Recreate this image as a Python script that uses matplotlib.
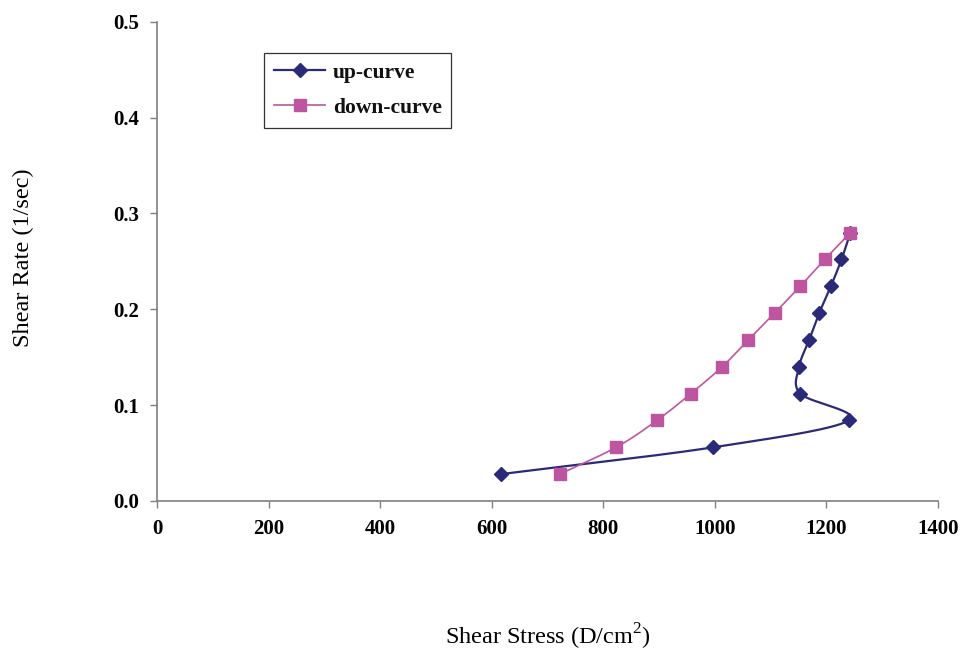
import numpy as np
import matplotlib
matplotlib.use("Agg")
import matplotlib.pyplot as plt
from matplotlib.lines import Line2D

# ---- data ----
up_stress = [616, 997, 1240, 1153, 1151, 1169, 1187, 1208, 1227, 1243]
up_rate = [0.028, 0.056, 0.084, 0.112, 0.140, 0.168, 0.196, 0.224, 0.252, 0.280]
down_stress = [722, 823, 896, 957, 1013, 1060, 1107, 1153, 1197, 1243]
down_rate = [0.028, 0.056, 0.084, 0.112, 0.140, 0.168, 0.196, 0.224, 0.252, 0.280]
x_ticks = [0, 200, 400, 600, 800, 1000, 1200, 1400]
y_ticks = [0.0, 0.1, 0.2, 0.3, 0.4, 0.5]
series_names = ["up-curve", "down-curve"]

NAVY = "#2B2A78"
MAG = "#BE55A0"
SERIF = ["Liberation Serif", "DejaVu Serif"]
plt.rcParams["mathtext.fontset"] = "custom"
plt.rcParams["mathtext.rm"] = "Liberation Serif"


def smooth(xs, ys, ax, n=30):
    """Catmull-Rom smoothing done in display space (like Excel's smoothed line)."""
    pts = ax.transData.transform(np.column_stack([xs, ys]))
    P = np.vstack([pts[0] * 2 - pts[1], pts, pts[-1] * 2 - pts[-2]])
    out = []
    for i in range(1, len(P) - 2):
        p0, p1, p2, p3 = P[i - 1], P[i], P[i + 1], P[i + 2]
        t = np.linspace(0, 1, n, endpoint=(i == len(P) - 3))[:, None]
        seg = 0.5 * ((2 * p1) + (-p0 + p2) * t + (2 * p0 - 5 * p1 + 4 * p2 - p3) * t ** 2
                     + (-p0 + 3 * p1 - 3 * p2 + p3) * t ** 3)
        out.append(seg)
    out = np.vstack(out)
    d = ax.transData.inverted().transform(out)
    return d[:, 0], d[:, 1]


fig = plt.figure(figsize=(9.61, 6.54), dpi=100)
ax = fig.add_axes([157 / 961, 1 - 501 / 654, 781 / 961, 479.3 / 654])
ax.set_xlim(0, 1400)
ax.set_ylim(0, 0.5)

sx, sy = smooth(up_stress, up_rate, ax)
ax.plot(sx, sy, color=NAVY, lw=1.6, zorder=2)
ax.plot(up_stress, up_rate, ls="none", marker="D", ms=7.5, color=NAVY, zorder=3)
sx, sy = smooth(down_stress, down_rate, ax)
ax.plot(sx, sy, color=MAG, lw=1.2, zorder=2)
ax.plot(down_stress, down_rate, ls="none", marker="s", ms=9, color=MAG, zorder=3)

for s in ["top", "right"]:
    ax.spines[s].set_visible(False)
for s in ["left", "bottom"]:
    ax.spines[s].set_color("#808080")
    ax.spines[s].set_linewidth(1.2)

ax.set_xticks(x_ticks)
ax.set_yticks(y_ticks)
ax.set_xticklabels([str(v) for v in x_ticks], fontfamily=SERIF, fontweight="bold", fontsize=15)
ax.set_yticklabels([f"{v:.1f}" for v in y_ticks], fontfamily=SERIF, fontweight="bold", fontsize=15)
ax.tick_params(axis="both", direction="out", length=5, width=1, color="#808080", pad=8)

ax.set_xlabel("Shear Stress (D/cm$^\\mathregular{2}$)", fontfamily=SERIF, fontsize=17.5)
ax.xaxis.set_label_coords(0.5, -0.252)
ax.set_ylabel("Shear Rate (1/sec)", fontfamily=SERIF, fontsize=17.5)
ax.yaxis.set_label_coords(-0.157, 0.508)

handles = [
    Line2D([], [], color=NAVY, lw=1.6, marker="D", ms=7.5),
    Line2D([], [], color=MAG, lw=1.2, marker="s", ms=9),
]
leg = fig.legend(handles, series_names, loc="upper left",
                 bbox_to_anchor=(264 / 961, 1 - 53 / 654),
                 prop={"family": SERIF, "weight": "bold", "size": 15.5},
                 frameon=True, fancybox=False, edgecolor="black",
                 handlelength=2.4, handletextpad=0.35, labelspacing=0.7,
                 borderpad=0.45, borderaxespad=0)
leg.get_frame().set_linewidth(0.9)
for t in leg.get_texts():
    t.set_color("#111111")

fig.savefig("out.png", dpi=100)
